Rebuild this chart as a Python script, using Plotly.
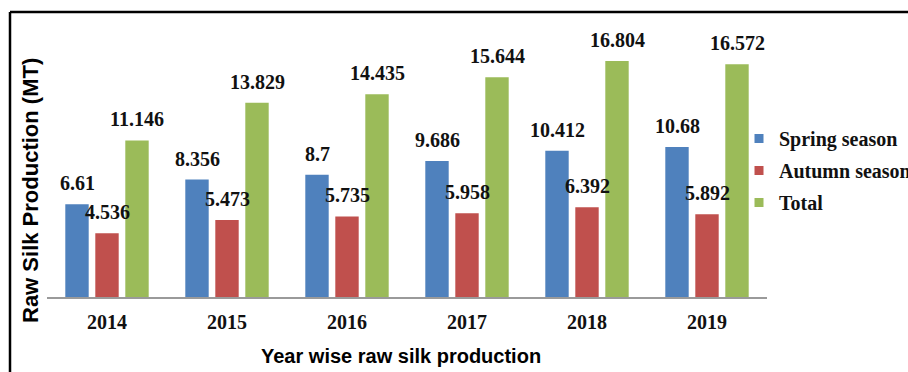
import plotly.graph_objects as go

# Raw silk production (MT) by season, 2014-2019
years = ["2014", "2015", "2016", "2017", "2018", "2019"]
spring = [6.61, 8.356, 8.7, 9.686, 10.412, 10.68]
autumn = [4.536, 5.473, 5.735, 5.958, 6.392, 5.892]
total = [11.146, 13.829, 14.435, 15.644, 16.804, 16.572]

series = [
    ("Spring season", spring, "#4F81BD"),
    ("Autumn season", autumn, "#C0504D"),
    ("Total", total, "#9BBB59"),
]

W, H = 908, 372
ML, MR, MT, MB = 47, 141, 16, 75
PW, PH = W - ML - MR, H - MT - MB

serif = "Liberation Serif, Times New Roman, serif"
sans = "Liberation Sans, Arial, sans-serif"
label_font = dict(family=serif, size=20, color="#111", weight="bold")

fig = go.Figure()
for name, vals, color in series:
    fig.add_trace(go.Bar(x=years, y=vals, name=name, marker_color=color,
                         marker_line_width=0, showlegend=False))
    # compact square legend swatch
    fig.add_trace(go.Scatter(x=[None], y=[None], mode="markers", name=name,
                             marker=dict(symbol="square", size=9, color=color),
                             legendgroup=name))

# value labels above each bar
offsets = [-0.25, 0.0, 0.25]
for (name, vals, color), off in zip(series, offsets):
    for i, v in enumerate(vals):
        fig.add_annotation(x=i + off, y=v, text=str(v),
                           showarrow=False, yanchor="bottom", yshift=8,
                           font=label_font)

# axis titles
fig.add_annotation(x=(30 - ML) / PW, y=(297 - 191) / PH, xref="paper", yref="paper",
                   xanchor="center", yanchor="middle",
                   text="<b>Raw Silk Production (MT)</b>", textangle=-90, showarrow=False,
                   font=dict(family=sans, size=22, color="#000"))
fig.add_annotation(x=(401 - ML) / PW, y=(297 - 356) / PH, xref="paper", yref="paper",
                   xanchor="center", yanchor="middle",
                   text="<b>Year wise raw silk production</b>", showarrow=False,
                   font=dict(family=sans, size=20, color="#000"))

# outer frame (top and left edges)
fx = (10 - ML) / PW
fy = (297 - 12) / PH
fig.add_shape(type="line", xref="paper", yref="paper", x0=fx, x1=2, y0=fy, y1=fy,
              line=dict(color="#000", width=2.5))
fig.add_shape(type="line", xref="paper", yref="paper", x0=fx, x1=fx, y0=fy, y1=-2,
              line=dict(color="#000", width=2.5))

fig.update_layout(
    width=W, height=H,
    margin=dict(l=ML, r=MR, t=MT, b=MB, autoexpand=False),
    paper_bgcolor="white", plot_bgcolor="white",
    barmode="group", bargap=0.25, bargroupgap=0.22,
    legend=dict(x=(739 - ML) / PW, xanchor="left", y=(297 - 119) / PH, yanchor="top",
                font=label_font, traceorder="grouped", tracegroupgap=3,
                bgcolor="rgba(0,0,0,0)", itemwidth=30),
    xaxis=dict(showline=True, linecolor="#9a9a9a", linewidth=2, ticks="",
               ticklabelstandoff=6,
               tickfont=dict(family=serif, size=20, color="#111", weight="bold"),
               showgrid=False, zeroline=False),
    yaxis=dict(range=[0, 20], visible=False, showgrid=False, zeroline=False),
)

fig.write_html("out.html")
